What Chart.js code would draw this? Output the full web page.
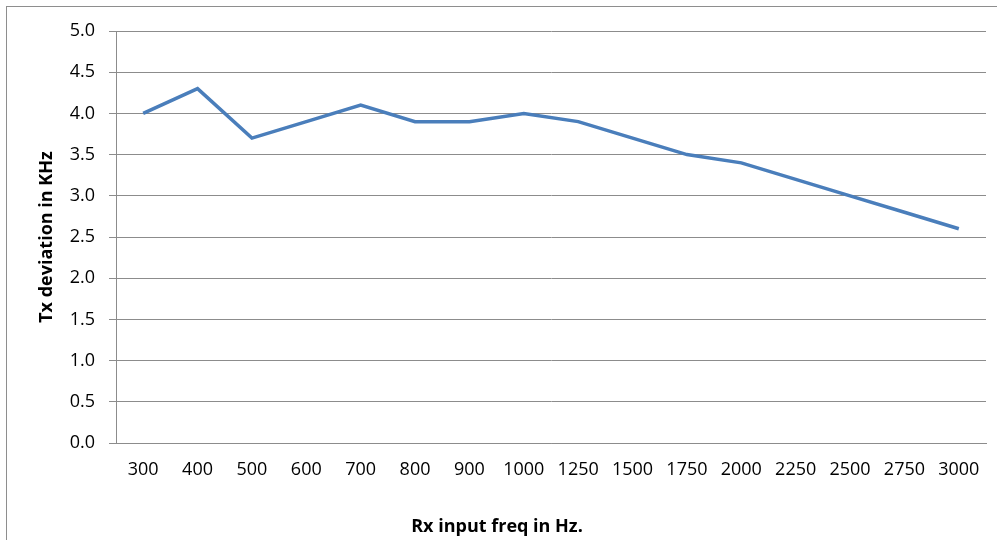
<!DOCTYPE html>
<html lang="en">
<head>
    <meta charset="UTF-8">
    <title>Tx deviation vs Rx input freq</title>
    <style>
        body {
            margin: 0;
            background: #fff;
        }
        .wrap {
            position: relative;
            width: 997px;
            height: 540px;
            overflow: hidden;
        }
        .frame {
            position: absolute;
            left: 6px;
            top: 6px;
            width: 1100px;
            height: 700px;
            border: 1px solid #8e8e8e;
        }
        canvas {
            position: absolute;
            left: 0;
            top: 0;
        }
    </style>
</head>
<body>
    <div class="wrap">
        <div class="frame"></div>
        <canvas id="chart" width="997" height="540"></canvas>
    </div>

    <script src="https://cdn.jsdelivr.net/npm/chart.js"></script>
    <script>
        // categories (Hz) and measured deviation (kHz)
        const freqs = ["300", "400", "500", "600", "700", "800", "900", "1000",
            "1250", "1500", "1750", "2000", "2250", "2500", "2750", "3000"];
        const deviation = [4.0, 4.3, 3.7, 3.9, 4.1, 3.9, 3.9, 4.0,
            3.9, 3.7, 3.5, 3.4, 3.2, 3.0, 2.8, 2.6];
        const yTicks = [0, 0.5, 1, 1.5, 2, 2.5, 3, 3.5, 4, 4.5, 5];

        const gridColor = "#8c8c8c";
        const fontFamily = "'Open Sans', sans-serif";

        new Chart(document.getElementById("chart"), {
            type: "line",
            data: {
                labels: freqs,
                datasets: [{
                    data: deviation,
                    borderColor: "#4a7ebb",
                    borderWidth: 3.5,
                    pointRadius: 0,
                    tension: 0,
                    fill: false
                }]
            },
            options: {
                responsive: false,
                animation: false,
                layout: {
                    padding: { left: 8, right: 11, top: 31, bottom: 0 }
                },
                plugins: {
                    legend: { display: false },
                    tooltip: { enabled: false },
                    title: {
                        display: true,
                        position: "bottom",
                        text: "Rx input freq in Hz.",
                        color: "#000",
                        font: { family: fontFamily, size: 18, weight: "bold" },
                        padding: { top: 0, bottom: 2 }
                    }
                },
                scales: {
                    x: {
                        offset: true,
                        grid: { display: false, drawTicks: false },
                        border: { display: true, color: gridColor, width: 1 },
                        ticks: {
                            color: "#000",
                            padding: 16,
                            maxRotation: 0,
                            autoSkip: false,
                            font: { family: fontFamily, size: 18 }
                        },
                        afterFit: (scale) => { scale.height = 73.4; }
                    },
                    y: {
                        min: 0,
                        max: 5,
                        afterBuildTicks: (scale) => {
                            scale.ticks = yTicks.map(v => ({ value: v }));
                        },
                        grid: {
                            color: gridColor,
                            lineWidth: 1,
                            drawTicks: true,
                            tickLength: 7
                        },
                        border: { display: true, color: gridColor, width: 1 },
                        ticks: {
                            color: "#000",
                            padding: 14,
                            font: { family: fontFamily, size: 18 },
                            callback: (v) => Number(v).toFixed(1)
                        },
                        title: {
                            display: true,
                            text: "Tx deviation in KHz",
                            color: "#000",
                            font: { family: fontFamily, size: 18, weight: "bold" },
                            padding: { top: 28, bottom: 0 }
                        },
                        afterFit: (scale) => { scale.width = 108; }
                    }
                }
            }
        });
    </script>
</body>
</html>
